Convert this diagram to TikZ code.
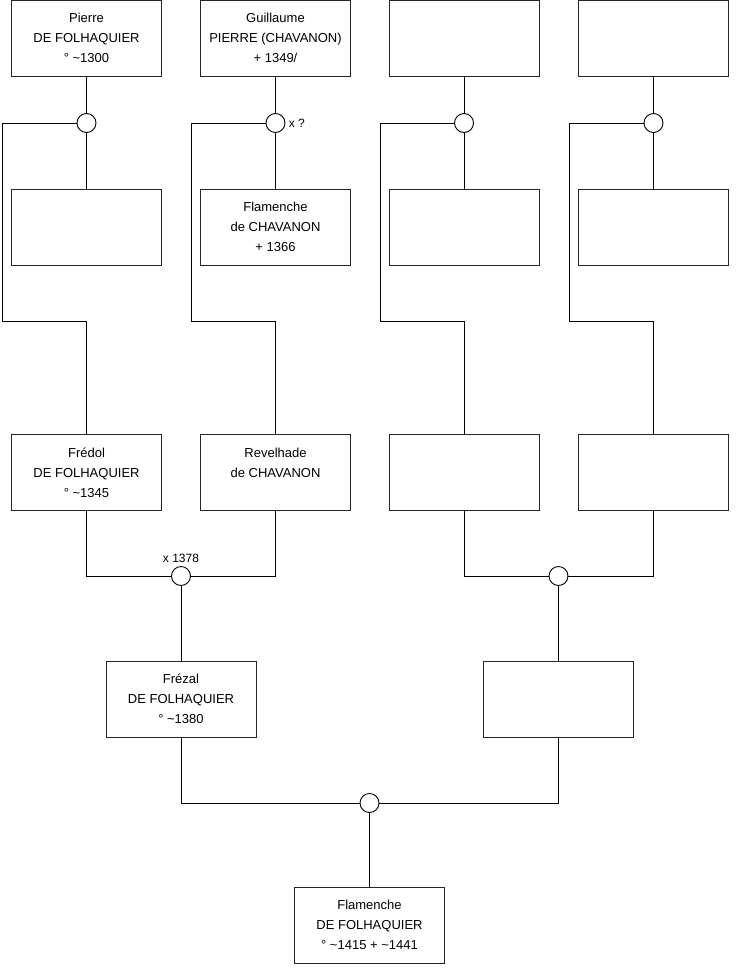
\documentclass[tikz,border=0pt]{standalone}
\usepackage{fontspec}
\setmainfont{Liberation Sans}
\usetikzlibrary{positioning}

\tikzset{
  person/.style={draw=black!85, minimum width=150pt, minimum height=76pt, align=center, inner sep=0pt, font=\fontsize{13}{20}\selectfont},
  union/.style={draw, circle, minimum size=19pt, inner sep=0pt, fill=white},
  note/.style={font=\fontsize{12}{14}\selectfont, inner sep=1pt},
}

\begin{document}
\begin{tikzpicture}[x=1pt, y=-1pt, line width=0.9pt]
  \useasboundingbox (0,0) rectangle (740,975);

  %% Great-grandparents
  \node[person] (pierre) at (86.5,38) {Pierre\\DE FOLHAQUIER\\° \textasciitilde1300};
  \node[person] (guillaume) at (275.5,38) {Guillaume\\PIERRE (CHAVANON)\\+ 1349/};
  \node[person] (gp3) at (464,38) {};
  \node[person] (gp4) at (653.5,38) {};

  %% Their spouses
  \node[person] (sp1) at (86.5,227) {};
  \node[person] (flamencheC) at (275.5,227) {Flamenche\\de CHAVANON\\+ 1366};
  \node[person] (sp3) at (464,227) {};
  \node[person] (sp4) at (653.5,227) {};

  %% Unions
  \node[union] (u1) at (86.5,123) {};
  \node[union] (u2) at (275.5,123) {};
  \node[union] (u3) at (464,123) {};
  \node[union] (u4) at (653.5,123) {};
  \node[note, right=2pt of u2] (u2note) {x ?};

  %% Grandparents
  \node[person] (fredol) at (86.5,472.5) {Frédol\\DE FOLHAQUIER\\° \textasciitilde1345};
  \node[person] (revelhade) at (275.5,472.5) {Revelhade\\de CHAVANON\\\mbox{}};
  \node[person] (par3) at (464,472.5) {};
  \node[person] (par4) at (653.5,472.5) {};

  %% Corners of the descent lines
  \coordinate (k1) at (2,321);
  \coordinate (k2) at (191,321);
  \coordinate (k3) at (380,321);
  \coordinate (k4) at (569,321);

  \draw (pierre) -- (u1) -- (sp1);
  \draw (guillaume) -- (u2) -- (flamencheC);
  \draw (gp3) -- (u3) -- (sp3);
  \draw (gp4) -- (u4) -- (sp4);
  \draw (u1.west) -| (k1) -| (fredol.north);
  \draw (u2.west) -| (k2) -| (revelhade.north);
  \draw (u3.west) -| (k3) -| (par3.north);
  \draw (u4.west) -| (k4) -| (par4.north);

  %% Parents
  \node[union] (u5) at (181,576) {};
  \node[union] (u6) at (558.5,576) {};
  \node[note, above=2pt of u5] (u5note) {x 1378};
  \draw (fredol.south) |- (u5.west);
  \draw (revelhade.south) |- (u5.east);
  \draw (par3.south) |- (u6.west);
  \draw (par4.south) |- (u6.east);

  \node[person] (frezal) at (181,699) {Frézal\\DE FOLHAQUIER\\° \textasciitilde1380};
  \node[person] (mother) at (558.5,699) {};
  \draw (u5) -- (frezal);
  \draw (u6) -- (mother);

  %% Child
  \node[union] (u7) at (369.5,803) {};
  \draw (frezal.south) |- (u7.west);
  \draw (mother.south) |- (u7.east);
  \node[person] (flamenche) at (369.5,925) {Flamenche\\DE FOLHAQUIER\\° \textasciitilde1415 + \textasciitilde1441};
  \draw (u7) -- (flamenche);
\end{tikzpicture}
\end{document}
